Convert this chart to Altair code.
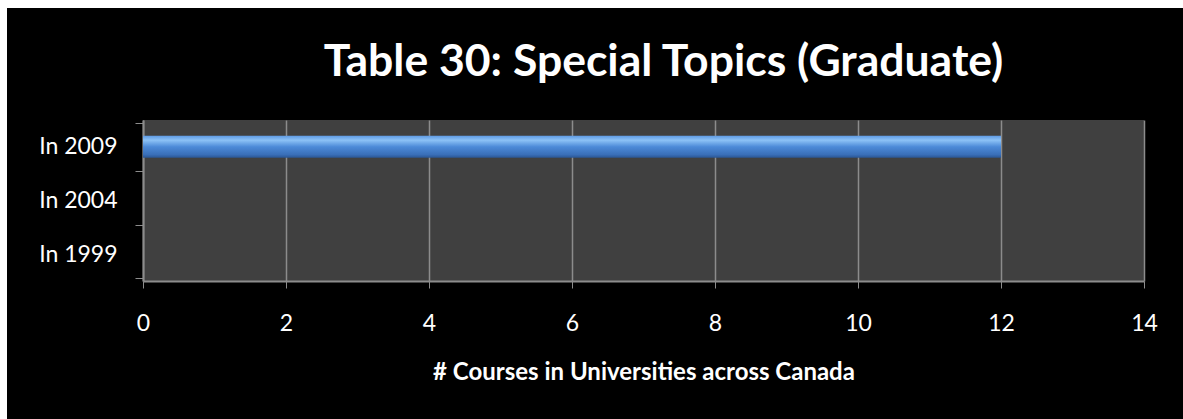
import altair as alt
import pandas as pd

years = ["In 2009", "In 2004", "In 1999"]
courses = [12, 0, 0]
x_ticks = [0, 2, 4, 6, 8, 10, 12, 14]

df = pd.DataFrame({"year": years, "courses": courses})

W, H = 1001, 161
PAD_L, PAD_T, PAD_R, PAD_B = 143, 120, 39, 138

gradient = alt.Gradient(
    gradient="linear",
    stops=[
        alt.GradientStop(color="#5f9be4", offset=0),
        alt.GradientStop(color="#8cc2f6", offset=0.2),
        alt.GradientStop(color="#4c8ad8", offset=0.5),
        alt.GradientStop(color="#3a6fb8", offset=0.85),
        alt.GradientStop(color="#2a5592", offset=1),
    ],
    x1=0, x2=0, y1=0, y2=1,
)

bars = alt.Chart(df).mark_bar(height=22, fill=gradient).encode(
    x=alt.X(
        "courses:Q",
        scale=alt.Scale(domain=[0, 14], nice=False),
        axis=alt.Axis(
            values=x_ticks,
            title="# Courses in Universities across Canada",
            titleFont="Lato",
            titleFontSize=24,
            titleFontWeight="bold",
            titleColor="white",
            titlePadding=25,
            labelFont="Lato",
            labelFontSize=23,
            labelColor="white",
            labelPadding=24,
            labelFlush=False,
            tickSize=7,
            tickColor="#8c8c8c",
            domainColor="#8c8c8c",
            domainWidth=2,
            gridColor="#8c8c8c",
            gridWidth=1.5,
            grid=True,
        ),
    ),
    y=alt.Y(
        "year:N",
        sort=years,
        title=None,
        axis=alt.Axis(
            labelFont="Lato",
            labelFontSize=23,
            labelColor="white",
            labelPadding=18,
            tickSize=8,
            tickBand="extent",
            tickColor="#8c8c8c",
            domainColor="#8c8c8c",
            domainWidth=2,
            grid=False,
        ),
    ),
)

# white strips along the top and left edges of the picture
strips = pd.DataFrame({
    "x": [-PAD_L, -PAD_L],
    "x2": [W + PAD_R, -PAD_L + 7],
    "y": [-PAD_T, -PAD_T],
    "y2": [-PAD_T + 8, H + PAD_B],
})
white = alt.Chart(strips).mark_rect(color="white").encode(
    x=alt.X("x:Q", scale=None), x2="x2:Q",
    y=alt.Y("y:Q", scale=None), y2="y2:Q",
)

chart = alt.layer(bars, white).properties(
    width=W,
    height=H,
    padding={"left": PAD_L, "top": PAD_T, "right": PAD_R, "bottom": PAD_B},
    autosize=alt.AutoSizeParams(type="none"),
    background="#000000",
    title=alt.TitleParams(
        "Table 30: Special Topics (Graduate)",
        font="Lato",
        fontSize=44.5,
        fontWeight="bold",
        color="white",
        anchor="middle",
        dx=20,
        dy=124,
        offset=4,
        baseline="alphabetic",
    ),
).configure_view(fill="#404040", stroke=None)

chart.save("out.html", embed_options={"renderer": "svg", "actions": False})
